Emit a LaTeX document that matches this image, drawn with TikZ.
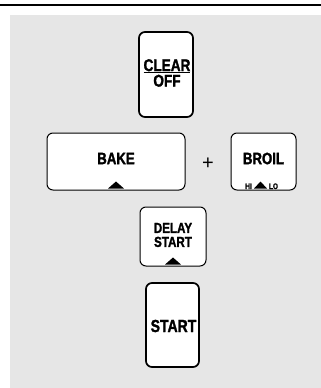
\documentclass[tikz,border=0pt]{standalone}
\usepackage{fontspec}
\setmainfont{Liberation Sans}
\newfontfamily\keyfont{Liberation Sans}[FakeStretch=0.8,FakeBold=1.5]
\usetikzlibrary{positioning}

\definecolor{panelgray}{HTML}{E6E6E6}

\tikzset{
  keyframe/.style={draw, fill=white, rounded corners=6pt, line width=1pt, inner sep=0pt},
  bigkey/.style={keyframe, line width=1.7pt},
  keylabel/.style={font=\keyfont\bfseries\fontsize{16.5}{16.5}\selectfont, inner sep=0pt, align=center},
  smalllabel/.style={font=\keyfont\bfseries\fontsize{8}{8}\selectfont, inner sep=0pt},
}

\begin{document}
\begin{tikzpicture}[x=1pt,y=-1pt]
\useasboundingbox (0,0) rectangle (321,388);
\fill[panelgray] (10,15) rectangle (321,388);
\draw[line width=2.6pt] (0,5) -- (321,5);

% keys
\node[bigkey, minimum width=54pt, minimum height=85pt] (clear) at (166,74.5) {};
\node[keyframe, minimum width=138pt, minimum height=57pt] (bake) at (116,161.5) {};
\node[keyframe, minimum width=65pt, minimum height=57pt] (broil) at (263.5,161.5) {};
\node[keyframe, minimum width=66pt, minimum height=59pt] (delay) at (173,236.5) {};
\node[bigkey, minimum width=53pt, minimum height=84pt] (start) at (172.5,325) {};

% labels
\node[keylabel, font=\keyfont\bfseries\fontsize{17}{15.5}\selectfont] (clearlabel) at (167,73) {\underline{CLEAR}\\OFF};
\node[keylabel] (bakelabel) at (116,158.5) {BAKE};
\node[keylabel] (broillabel) at (263.5,158.5) {BROIL};
\node[keylabel, font=\keyfont\bfseries\fontsize{14.5}{14}\selectfont] (delaylabel) at (173,235) {DELAY\\START};
\node[keylabel, font=\keyfont\bfseries\fontsize{17.5}{17.5}\selectfont] (startlabel) at (173.5,326) {START};
\node[font=\fontsize{20}{20}\selectfont, inner sep=0pt] (plus) at (208,164) {+};
\node[smalllabel, anchor=base] (hi) at (248.5,189) {HI};
\node[smalllabel, anchor=base] (lo) at (273.5,189) {LO};

% setting marks
\foreach \k/\w/\dx in {bake/8/0, delay/8/0, broil/6.5/-3}
  \fill ([xshift=\dx pt,yshift=2pt]\k.south) ++(-\w,0) -- ++(2*\w,0) -- ++(-\w,-7) -- cycle;

\end{tikzpicture}
\end{document}
